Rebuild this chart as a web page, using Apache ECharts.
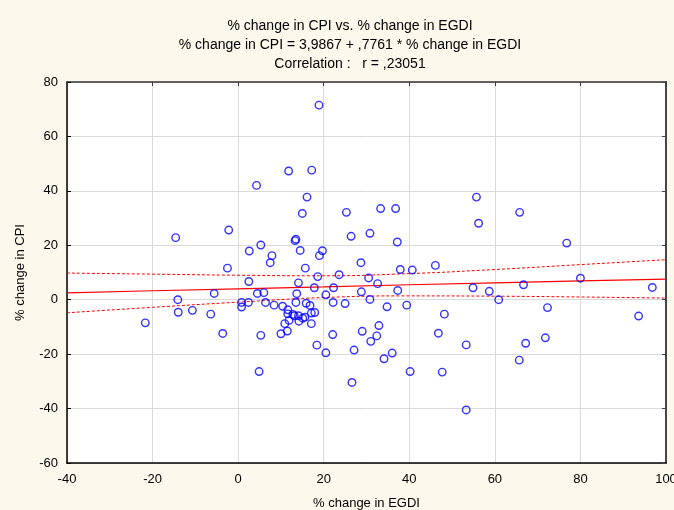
<!DOCTYPE html>
<html>
<head>
<meta charset="utf-8">
<script src="https://cdn.jsdelivr.net/npm/echarts@6/dist/echarts.min.js"></script>
<style>
  html, body { margin: 0; padding: 0; background: #fdf8ec; }
  #chart { width: 674px; height: 510px; }
</style>
</head>
<body>
<div id="chart"></div>
<script>
// scatter points: % change in EGDI (x) vs % change in CPI (y)
const egdi = [
  18.9, 11.8, 17.2, 4.3, 16.1, 15.0, 25.3, 26.4, 30.8, -2.2,
  -14.6, 13.5, 13.3, 5.3, 2.6, 7.9, 7.5, 14.5, 19.0, 19.7,
  28.7, 15.7, -2.5, 55.7, 33.3, 36.8, 65.8, 56.2, 37.2, 76.8,
  37.9, 40.7, 46.1, 18.6, 23.6, 30.5, 2.5, 14.1, 17.8, 22.3,
  28.8, 30.8, -5.6, 4.5, 6.0, 13.7, 20.5, -14.1, 0.8, 0.8,
  2.4, 6.4, 8.4, 10.4, 13.5, 15.9, 16.8, 22.2, 25.0, 11.6,
  11.6, 12.8, 13.1, 14.1, 15.1, 15.6, 17.1, 17.9, 11.9, 14.2,
  17.1, 10.9, 11.5, 10.0, -14.0, -10.7, -6.4, -21.7, -3.6, 5.3,
  4.9, 18.4, 20.5, 22.1, 26.6, 27.1, 29.0, 31.0, 32.6, 37.3,
  34.8, 39.4, 48.2, 32.9, 32.4, 34.1, 36.0, 40.2, 47.7, 46.8,
  80.0, 54.9, 58.7, 60.9, 66.7, 72.3, 96.8, 93.6, 53.3, 67.2,
  71.8, 65.7, 53.3
];
const cpi = [
  71.5, 47.3, 47.6, 42.0, 37.7, 31.7, 32.1, 23.3, 24.4, 25.6,
  22.8, 22.2, 21.7, 20.1, 17.9, 16.2, 13.6, 18.1, 16.2, 18.0,
  13.6, 11.6, 11.6, 37.7, 33.5, 33.5, 32.1, 28.1, 21.2, 20.8,
  11.1, 10.9, 12.6, 8.5, 9.2, 8.0, 6.7, 6.2, 4.4, 4.4,
  2.9, 0.1, 2.3, 2.3, 2.6, 2.2, 1.8, 0.0, -1.0, -2.7,
  -1.0, -1.0, -2.0, -2.4, -1.0, -1.3, -2.1, -1.0, -1.4, -3.7,
  -5.2, -5.4, -5.9, -5.9, -6.8, -6.4, -4.9, -4.7, -7.6, -7.9,
  -8.8, -8.8, -11.5, -12.5, -4.6, -3.9, -5.3, -8.5, -12.4, -13.1,
  -26.4, -16.7, -19.5, -12.8, -30.4, -18.5, -11.6, -15.3, 5.9, 3.4,
  -2.6, -2.0, -5.3, -9.5, -13.3, -21.7, -19.6, -26.4, -26.6, -12.3,
  7.9, 4.4, 3.1, 0.0, 5.5, -2.9, 4.5, -6.0, -16.6, -16.0,
  -14.0, -22.2, -40.5
];

// fitted line and 95% band
const bandX = [-40, -20, 0, 20, 40, 60, 80, 100];
const fitY = [2.5, 3.3, 4.0, 4.7, 5.5, 6.2, 6.9, 7.6];
const upperY = [9.8, 9.4, 9.0, 8.8, 9.6, 11.1, 12.9, 14.7];
const lowerY = [-4.8, -2.8, -0.9, 0.8, 1.4, 1.3, 1.0, 0.6];

const titleLines = [
  '% change in CPI vs. % change in EGDI',
  '% change in CPI = 3,9867 + ,7761 * % change in EGDI',
  'Correlation :   r = ,23051'
];

const chart = echarts.init(document.getElementById('chart'));

const font = 'Liberation Sans, Arial, sans-serif';
const pts = egdi.map((x, i) => [x, cpi[i]]);
const pairs = (ys) => bandX.map((x, i) => [x, ys[i]]);

const option = {
  backgroundColor: '#fdf8ec',
  animation: false,
  textStyle: { fontFamily: font },
  graphic: titleLines.map((t, i) => ({
    type: 'text',
    x: 350,
    y: 26 + i * 19,
    style: {
      text: t,
      fontFamily: font,
      fontSize: 14,
      fill: '#000',
      align: 'center',
      verticalAlign: 'middle'
    }
  })),
  grid: {
    left: 67,
    right: 8,
    top: 82,
    bottom: 47,
    outerBoundsMode: 'none',
    containLabel: false,
    show: true,
    backgroundColor: '#fff',
    borderWidth: 0
  },
  xAxis: [
    {
      type: 'value',
      min: -40,
      max: 100,
      interval: 20,
      position: 'bottom',
      name: '% change in EGDI',
      nameLocation: 'middle',
      nameGap: 34,
      nameTextStyle: { color: '#000', fontSize: 13, fontFamily: font },
      axisLine: { onZero: false, lineStyle: { color: '#000', width: 1.5 } },
      axisTick: { show: false },
      axisLabel: { color: '#000', fontSize: 13, margin: 10, fontFamily: font },
      splitLine: { show: true, lineStyle: { color: '#dadada', width: 1 } }
    },
    {
      type: 'value',
      min: -40,
      max: 100,
      interval: 20,
      position: 'top',
      axisLine: { onZero: false, lineStyle: { color: '#333', width: 1.5 } },
      axisTick: { show: true, inside: true, length: 4, lineStyle: { color: '#333' } },
      axisLabel: { show: false },
      splitLine: { show: false }
    }
  ],
  yAxis: [
    {
      type: 'value',
      min: -60,
      max: 80,
      interval: 20,
      position: 'left',
      name: '% change in CPI',
      nameLocation: 'middle',
      nameGap: 40,
      nameRotate: 90,
      nameTextStyle: { color: '#000', fontSize: 13, fontFamily: font },
      axisLine: { onZero: false, lineStyle: { color: '#000', width: 1.5 } },
      axisTick: { show: true, inside: true, length: 4, lineStyle: { color: '#000' } },
      axisLabel: { color: '#000', fontSize: 13, margin: 9, fontFamily: font },
      splitLine: { show: true, lineStyle: { color: '#dadada', width: 1 } }
    },
    {
      type: 'value',
      min: -60,
      max: 80,
      interval: 20,
      position: 'right',
      axisLine: { onZero: false, lineStyle: { color: '#444', width: 2 } },
      axisTick: { show: true, inside: true, length: 4, lineStyle: { color: '#444' } },
      axisLabel: { show: false },
      splitLine: { show: false }
    }
  ],
  series: [
    {
      name: 'upper',
      type: 'line',
      data: pairs(upperY),
      smooth: true,
      symbol: 'none',
      silent: true,
      lineStyle: { color: '#ff0000', width: 1, type: [3, 2] },
      z: 3
    },
    {
      name: 'lower',
      type: 'line',
      data: pairs(lowerY),
      smooth: true,
      symbol: 'none',
      silent: true,
      lineStyle: { color: '#ff0000', width: 1, type: [3, 2] },
      z: 3
    },
    {
      name: 'fit',
      type: 'line',
      data: pairs(fitY),
      symbol: 'none',
      silent: true,
      lineStyle: { color: '#ff0000', width: 1.2 },
      z: 3
    },
    {
      name: 'points',
      type: 'scatter',
      data: pts,
      symbol: 'circle',
      symbolSize: 7.5,
      itemStyle: {
        color: 'rgba(0,0,0,0)',
        borderColor: '#0000ff',
        borderWidth: 1.4
      },
      z: 4
    }
  ]
};

chart.setOption(option);
</script>
</body>
</html>
